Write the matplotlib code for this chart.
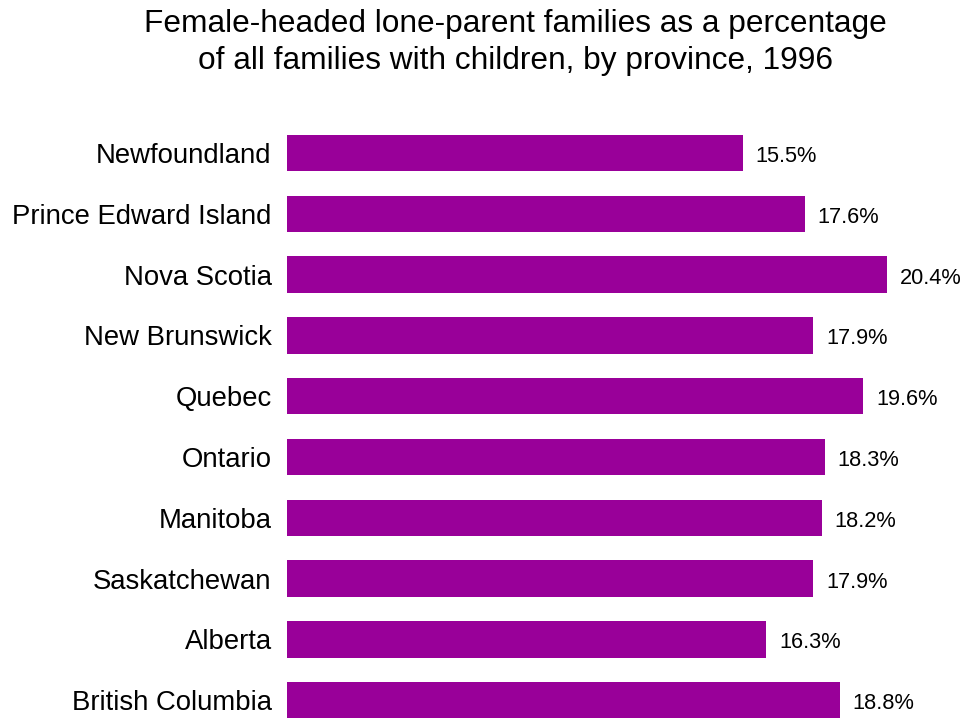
import matplotlib.pyplot as plt

plt.rcParams['font.family'] = ['Liberation Sans', 'DejaVu Sans']

# Datos
provincias = ['Newfoundland', 'Prince Edward Island', 'Nova Scotia', 'New Brunswick',
              'Quebec', 'Ontario', 'Manitoba', 'Saskatchewan', 'Alberta', 'British Columbia']
porcentajes = [15.5, 17.6, 20.4, 17.9, 19.6, 18.3, 18.2, 17.9, 16.3, 18.8]
etiquetas = ['15.5%', '17.6%', '20.4%', '17.9%', '19.6%', '18.3%', '18.2%', '17.9%', '16.3%', '18.8%']

fig = plt.figure(figsize=(9.64, 7.19), dpi=100)
ax = fig.add_axes([287 / 964, 0, 600 / 964, 596.4 / 719])

y = range(len(provincias))
ax.barh(y, porcentajes, height=0.6, color='#990099')

# Etiquetas de valor
for i, (v, t) in enumerate(zip(porcentajes, etiquetas)):
    ax.annotate(t, (v, i), xytext=(9, -2.5), textcoords='offset points',
                va='center', ha='left', fontsize=15.7)

ax.set_xlim(0, 20.4)
ax.set_ylim(9.31, -0.5)
ax.set_yticks(list(y))
ax.set_yticklabels(provincias, fontsize=19.8)
ax.tick_params(axis='y', length=0, pad=11)
ax.set_xticks([])
for s in ax.spines.values():
    s.set_visible(False)

fig.text(515 / 964, 1 - 9 / 719,
         'Female-headed lone-parent families as a percentage\nof all families with children, by province, 1996',
         ha='center', va='top', fontsize=22.8, linespacing=1.3)

fig.savefig('out.png', dpi=100)
